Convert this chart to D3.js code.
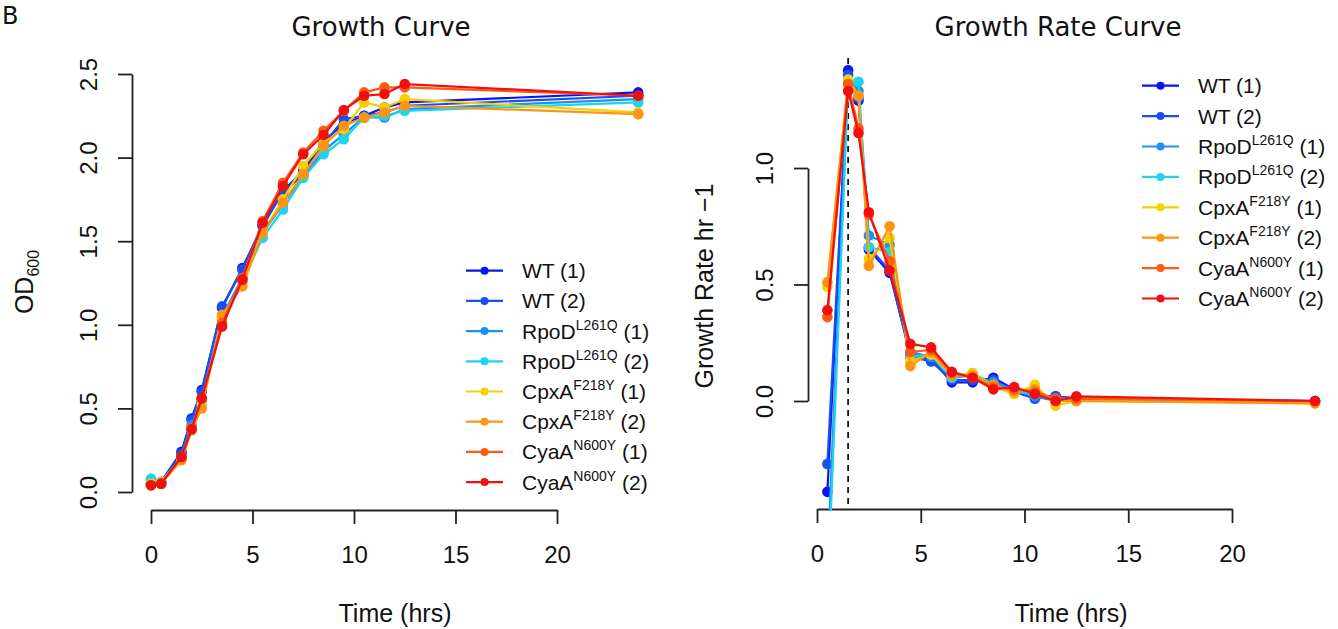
<!DOCTYPE html>
<html><head><meta charset="utf-8">
<script src="https://cdn.jsdelivr.net/npm/d3@7"></script>
<style>
body{margin:0;background:#fff;}
text{font-family:"Liberation Sans",Arial,sans-serif;fill:#111;}
</style>
</head><body><svg id="c" width="1338" height="629"></svg>
<script>
// ---------- data ----------
const growthTimes = [0, 0.5, 1.5, 2, 2.5, 3.5, 4.5, 5.5, 6.5, 7.5, 8.5, 9.5, 10.5, 11.5, 12.5, 24];
const odWT1   = [0.05, 0.06, 0.24, 0.44, 0.61, 1.10, 1.34, 1.59, 1.80, 1.92, 2.10, 2.20, 2.25, 2.30, 2.33, 2.39];
const odWT2   = [0.05, 0.06, 0.23, 0.43, 0.60, 1.11, 1.33, 1.60, 1.79, 1.90, 2.08, 2.23, 2.25, 2.27, 2.31, 2.37];
const odRpoD1 = [0.07, 0.06, 0.21, 0.40, 0.55, 1.05, 1.28, 1.55, 1.72, 1.89, 2.04, 2.14, 2.24, 2.24, 2.29, 2.35];
const odRpoD2 = [0.08, 0.06, 0.20, 0.38, 0.54, 1.03, 1.26, 1.52, 1.69, 1.88, 2.02, 2.11, 2.24, 2.25, 2.28, 2.33];
const odCpxA1 = [0.05, 0.06, 0.20, 0.37, 0.52, 1.04, 1.25, 1.55, 1.75, 1.95, 2.09, 2.17, 2.33, 2.30, 2.35, 2.27];
const odCpxA2 = [0.04, 0.05, 0.19, 0.37, 0.50, 1.06, 1.23, 1.55, 1.73, 1.90, 2.07, 2.19, 2.24, 2.27, 2.31, 2.26];
const odCyaA1 = [0.04, 0.05, 0.21, 0.38, 0.56, 1.01, 1.28, 1.62, 1.85, 2.03, 2.16, 2.28, 2.39, 2.42, 2.42, 2.37];
const odCyaA2 = [0.04, 0.05, 0.21, 0.375, 0.56, 0.99, 1.27, 1.61, 1.83, 2.02, 2.135, 2.285, 2.37, 2.38, 2.44, 2.37];

const rateTimes = [0.5, 1.5, 2, 2.5, 3.5, 4.5, 5.5, 6.5, 7.5, 8.5, 9.5, 10.5, 11.5, 12.5, 24];
const rateWT1   = [-0.39, 1.42, 1.29, 0.65, 0.55, 0.20, 0.18, 0.08, 0.08, 0.10, 0.05, 0.02, 0.02, 0.01, 0.00];
const rateWT2   = [-0.27, 1.40, 1.30, 0.66, 0.56, 0.19, 0.17, 0.09, 0.09, 0.09, 0.04, 0.01, 0.02, 0.01, 0.00];
const rateRpoD1 = [-0.70, 1.38, 1.33, 0.71, 0.67, 0.21, 0.19, 0.10, 0.11, 0.08, 0.05, 0.02, 0.00, 0.01, 0.00];
const rateRpoD2 = [-0.85, 1.37, 1.37, 0.66, 0.64, 0.19, 0.20, 0.10, 0.12, 0.07, 0.04, 0.03, 0.01, 0.00, 0.00];
const rateCpxA1 = [0.49, 1.38, 1.31, 0.61, 0.70, 0.17, 0.20, 0.11, 0.12, 0.06, 0.03, 0.07, -0.02, 0.00, -0.01];
const rateCpxA2 = [0.51, 1.36, 1.31, 0.58, 0.75, 0.15, 0.21, 0.11, 0.11, 0.07, 0.04, 0.05, 0.00, 0.00, -0.01];
const rateCyaA1 = [0.36, 1.36, 1.17, 0.80, 0.60, 0.21, 0.22, 0.12, 0.10, 0.06, 0.05, 0.04, 0.01, 0.01, 0.00];
const rateCyaA2 = [0.39, 1.33, 1.15, 0.81, 0.56, 0.245, 0.23, 0.125, 0.10, 0.05, 0.06, 0.03, 0.00, 0.02, 0.00];
const peakTime = 1.5;

const strainNames = ["WT", "WT", "RpoD", "RpoD", "CpxA", "CpxA", "CyaA", "CyaA"];
const strainSups  = ["", "", "L261Q", "L261Q", "F218Y", "F218Y", "N600Y", "N600Y"];
const replicates  = ["(1)", "(2)", "(1)", "(2)", "(1)", "(2)", "(1)", "(2)"];
const seriesColors = ["#0a14f0", "#1450f5", "#1e8ff5", "#1ed2f0", "#f5d000", "#ff9410", "#ff5a10", "#f01010"];

const xTicks = [0, 5, 10, 15, 20];
const odTicks = [0, 0.5, 1.0, 1.5, 2.0, 2.5];
const rateTicks = [0, 0.5, 1.0];

const odSeries = [odWT1, odWT2, odRpoD1, odRpoD2, odCpxA1, odCpxA2, odCyaA1, odCyaA2];
const rateSeries = [rateWT1, rateWT2, rateRpoD1, rateRpoD2, rateCpxA1, rateCpxA2, rateCyaA1, rateCyaA2];

// ---------- drawing ----------
const svg = d3.select("#c");
svg.append("rect").attr("width", 1338).attr("height", 629).attr("fill", "#fff");
svg.append("text").attr("x", 2).attr("y", 24).attr("font-size", 24)
  .style("font-family", "DejaVu Sans").text("B");

function panel(cfg) {
  const g = svg.append("g");
  const x = d3.scaleLinear().domain([0, 20]).range(cfg.xr);
  const y = d3.scaleLinear().domain(cfg.yd).range(cfg.yr);

  // title
  g.append("text").attr("x", cfg.tx).attr("y", 36).attr("text-anchor", "middle")
    .attr("font-size", 26).style("font-family", "DejaVu Sans").text(cfg.title);

  // x axis
  const xa = g.append("g").attr("transform", `translate(0,${cfg.xAxisY})`)
    .call(d3.axisBottom(x).tickValues(xTicks).tickFormat(d3.format("d"))
      .tickSize(14).tickSizeOuter(0).tickPadding(22));
  // y axis
  const ya = g.append("g").attr("transform", `translate(${cfg.yAxisX},0)`)
    .call(d3.axisLeft(y).tickValues(cfg.yTicks).tickFormat(d3.format(".1f"))
      .tickSize(14).tickSizeOuter(0));
  [xa, ya].forEach(a => {
    a.selectAll("path.domain").attr("stroke", "#222").attr("stroke-width", 1.8);
    a.selectAll("line").attr("stroke", "#222").attr("stroke-width", 1.8);
    a.selectAll("text").attr("font-size", 24).attr("fill", "#111")
      .style("font-family", "'Liberation Sans', Arial, sans-serif");
  });
  ya.selectAll("text").attr("transform", "rotate(-90)").attr("x", 0).attr("y", -44)
    .attr("dy", "0.36em").attr("text-anchor", "middle");

  // axis titles
  g.append("text").attr("x", cfg.cx).attr("y", 622).attr("text-anchor", "middle")
    .attr("font-size", 25).text("Time (hrs)");
  const yl = g.append("text").attr("transform", `translate(${cfg.ylabX},${cfg.ylabY}) rotate(-90)`)
    .attr("text-anchor", "middle").attr("font-size", 25);
  cfg.ylab(yl);

  // clip
  const cid = "clip" + cfg.id;
  svg.append("clipPath").attr("id", cid).append("rect")
    .attr("x", cfg.clip[0]).attr("y", cfg.clip[1]).attr("width", cfg.clip[2]).attr("height", cfg.clip[3]);
  const plot = g.append("g").attr("clip-path", `url(#${cid})`);

  if (cfg.vline !== undefined) {
    plot.append("line").attr("x1", x(cfg.vline)).attr("x2", x(cfg.vline))
      .attr("y1", cfg.clip[1]).attr("y2", cfg.xAxisY)
      .attr("stroke", "#111").attr("stroke-width", 1.8).attr("stroke-dasharray", "6,5");
  }

  const line = d3.line().x(d => x(d[0])).y(d => y(d[1]));
  cfg.series.forEach((vals, i) => {
    const pts = cfg.times.map((t, j) => [t, vals[j]]);
    plot.append("path").datum(pts).attr("d", line).attr("fill", "none")
      .attr("stroke", seriesColors[i]).attr("stroke-width", 2.2).attr("stroke-linejoin", "round");
    plot.selectAll(null).data(pts).enter().append("circle")
      .attr("cx", d => x(d[0])).attr("cy", d => y(d[1])).attr("r", 5.3)
      .attr("fill", seriesColors[i]);
  });

  // legend
  const lg = g.append("g");
  seriesColors.forEach((c, i) => {
    const yy = cfg.leg[1] + i * cfg.leg[2];
    const lx = cfg.leg[0];
    lg.append("line").attr("x1", lx).attr("x2", lx + 37).attr("y1", yy).attr("y2", yy)
      .attr("stroke", c).attr("stroke-width", 2.2);
    lg.append("circle").attr("cx", lx + 18.5).attr("cy", yy).attr("r", 4).attr("fill", c);
    const t = lg.append("text").attr("x", lx + 56).attr("y", yy + 7.5).attr("font-size", 21);
    t.append("tspan").text(strainNames[i]);
    if (strainSups[i]) {
      t.append("tspan").attr("dy", -9).attr("font-size", 14).text(strainSups[i]);
      t.append("tspan").attr("dy", 9).text(" " + replicates[i]);
    } else {
      t.append("tspan").text(" " + replicates[i]);
    }
  });
}

panel({
  id: "A", title: "Growth Curve", cx: 395, tx: 381,
  xr: [151, 557], yd: [0, 2.5], yr: [492, 74], yTicks: odTicks,
  xAxisY: 510, yAxisX: 132, ylabX: 33, ylabY: 282,
  ylab: s => { s.append("tspan").text("OD"); s.append("tspan").attr("dy", 6).attr("font-size", 16).text("600"); },
  clip: [132, 40, 530, 472], times: growthTimes, series: odSeries,
  leg: [466, 270.7, 30.2]
});

panel({
  id: "B", title: "Growth Rate Curve", cx: 1071, tx: 1058,
  xr: [817, 1232], yd: [0, 1], yr: [401, 168], yTicks: rateTicks,
  xAxisY: 509, yAxisX: 808, ylabX: 713, ylabY: 286,
  ylab: s => { s.text("Growth Rate hr \u22121"); },
  clip: [808, 58, 527, 453], times: rateTimes, series: rateSeries,
  vline: peakTime,
  leg: [1142, 85.7, 30.4]
});
</script></body></html>
